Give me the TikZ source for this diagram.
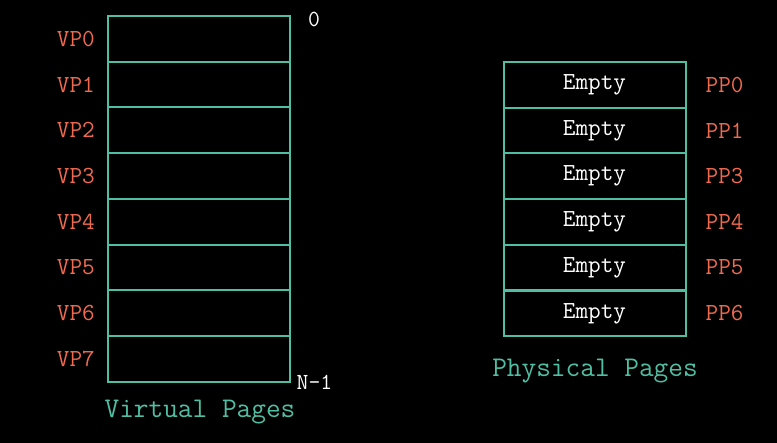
\documentclass[tikz,border=0pt]{standalone}
\usetikzlibrary{positioning,calc}
\definecolor{pgteal}{RGB}{80,190,162}
\definecolor{pgsalmon}{RGB}{240,106,80}
\begin{document}
\begin{tikzpicture}[x=1pt,y=-1pt,
  cell/.style={draw=pgteal, line width=2pt, minimum width=182pt, minimum height=45.75pt, inner sep=0pt, text=white, font=\fontsize{24.5}{28}\selectfont\ttfamily},
  lab/.style={text=pgsalmon, inner sep=0pt, font=\fontsize{24.5}{28}\selectfont\ttfamily},
  mark0/.style={text=white, inner sep=0pt, font=\fontsize{23}{26}\selectfont\ttfamily},
  title/.style={text=pgteal, inner sep=0pt, font=\fontsize{28.5}{32}\selectfont\ttfamily}]
\fill[black] (0,0) rectangle (777,443);
\useasboundingbox (0,0) rectangle (777,443);
\foreach \i in {0,...,7}{
  \node[cell] (v\i) at (199, 16+45.75*\i+22.875) {};
  \node[lab, left=12pt of v\i] (vl\i) {VP\i};
}
\foreach \i/\p in {0/0,1/1,2/3,3/4,4/5,5/6}{
  \node[cell] (p\i) at (594.5, 62+45.7*\i+22.85) {Empty};
  \node[lab, right=19pt of p\i] (pl\i) {PP\p};
}
\node[mark0] (z) at ($(v0.north east)+(23,4)$) {0};
\node[mark0] (n) at ($(v7.south east)+(23.5,-1)$) {N-1};
\node[title] (vt) at ($(v7.south)+(1,29.5)$) {Virtual Pages};
\node[title] (pt) at ($(p5.south)+(0.5,34)$) {Physical Pages};
\end{tikzpicture}
\end{document}
